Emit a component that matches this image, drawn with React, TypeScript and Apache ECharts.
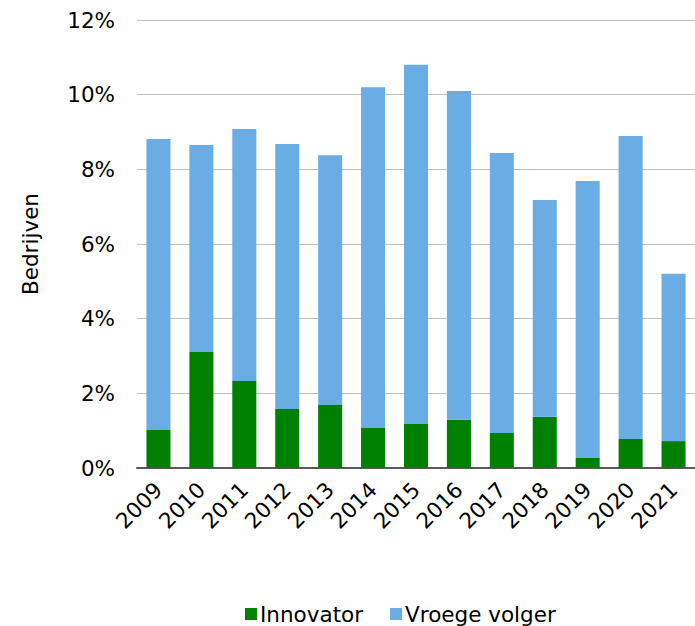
import React, { useEffect, useRef } from "react";
import * as echarts from "echarts";

const years = ["2009", "2010", "2011", "2012", "2013", "2014", "2015", "2016", "2017", "2018", "2019", "2020", "2021"];
const innovator = [1.02, 3.11, 2.33, 1.58, 1.69, 1.07, 1.18, 1.29, 0.94, 1.37, 0.27, 0.78, 0.72];
const totals = [8.81, 8.65, 9.08, 8.68, 8.38, 10.2, 10.8, 10.1, 8.44, 7.18, 7.69, 8.89, 5.2];
const vroegeVolger = totals.map((t, i) => +(t - innovator[i]).toFixed(2));

const FONT = "DejaVu Sans, Verdana, sans-serif";

export default function App() {
  const ref = useRef<HTMLDivElement>(null);
  useEffect(() => {
    document.body.style.margin = "0";
    const chart = echarts.init(ref.current!, null, { renderer: "svg" });
    chart.setOption({
      animation: false,
      textStyle: { fontFamily: FONT },
      grid: { left: 137, right: 0, top: 20, bottom: 158 },
      legend: {
        top: 598,
        left: 240,
        itemWidth: 12,
        itemHeight: 12,
        itemGap: 27,
        icon: "rect",
        textStyle: { fontSize: 21.5, color: "#000", fontFamily: FONT, padding: [0, 0, 0, -2] },
        data: ["Innovator", "Vroege volger"],
      },
      xAxis: {
        type: "category",
        data: years,
        axisTick: { show: false },
        axisLine: { lineStyle: { color: "#595959", width: 2 } },
        axisLabel: { rotate: 45, fontSize: 21.5, color: "#000", margin: 18, fontFamily: FONT },
      },
      yAxis: {
        type: "value",
        min: 0,
        max: 12,
        interval: 2,
        name: "Bedrijven",
        nameLocation: "middle",
        nameGap: 96,
        nameTextStyle: { fontSize: 21.5, color: "#000", fontFamily: FONT },
        axisLabel: { formatter: "{value}%", fontSize: 21.5, color: "#000", margin: 22, fontFamily: FONT },
        splitLine: { lineStyle: { color: "#bfbfbf", width: 1 } },
      },
      series: [
        {
          name: "Innovator",
          type: "bar",
          stack: "a",
          data: innovator,
          barWidth: "56%",
          itemStyle: { color: "#008000" },
        },
        {
          name: "Vroege volger",
          type: "bar",
          stack: "a",
          data: vroegeVolger,
          barWidth: "56%",
          itemStyle: { color: "#6aade4" },
        },
      ],
    });
    return () => chart.dispose();
  }, []);
  return <div ref={ref} style={{ width: 695, height: 626 }} />;
}
